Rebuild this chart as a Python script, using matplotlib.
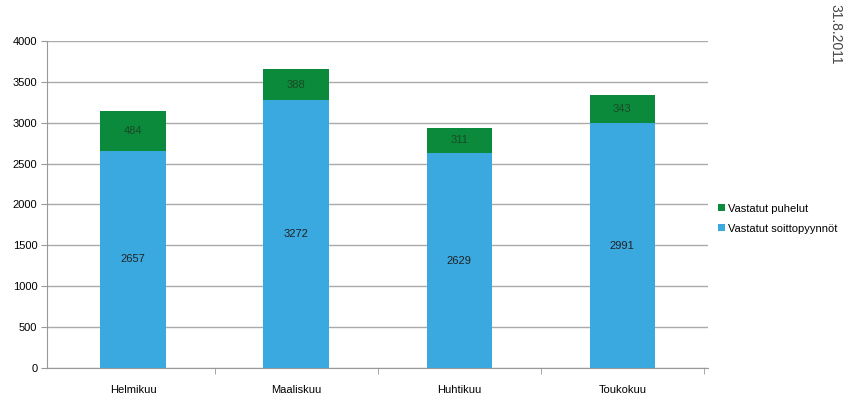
import matplotlib
matplotlib.use("Agg")
import matplotlib.pyplot as plt
import numpy as np

# data
kuukaudet = ["Helmikuu", "Maaliskuu", "Huhtikuu", "Toukokuu"]
soittopyynnot = [2657, 3272, 2629, 2991]
puhelut = [484, 388, 311, 343]

SININEN = "#3aa9e0"
VIHREA = "#0b8a3c"

plt.rcParams["font.family"] = ["Liberation Sans", "DejaVu Sans"]

fig = plt.figure(figsize=(8.61, 3.94), dpi=100)
ax = fig.add_axes([0.0546, 0.066, 0.768, 0.830])

x = np.arange(len(kuukaudet))
leveys = 0.40

b1 = ax.bar(x, soittopyynnot, leveys, color=SININEN, label="Vastatut soittopyynnöt", zorder=3)
b2 = ax.bar(x, puhelut, leveys, bottom=soittopyynnot, color=VIHREA, label="Vastatut puhelut", zorder=3)

for i in range(len(x)):
    ax.text(x[i], soittopyynnot[i] / 2, str(soittopyynnot[i]), ha="center", va="center",
            fontsize=8, color="#222222", zorder=4)
    ax.text(x[i], soittopyynnot[i] + puhelut[i] / 2, str(puhelut[i]), ha="center", va="center",
            fontsize=8, color="#1a4a25", zorder=4)

ax.set_xlim(-0.527, 3.527)
ax.set_ylim(0, 4000)
ax.set_yticks(range(0, 4001, 500))
ax.set_xticks(x)
ax.set_xticklabels(kuukaudet)
ax.set_xticks(np.arange(0.5, 3.6, 1), minor=True)
ax.tick_params(axis="x", which="major", length=0, pad=12, labelsize=8)
ax.tick_params(axis="x", which="minor", length=4, color="#999999")
ax.tick_params(axis="y", length=4, color="#999999", labelsize=8, pad=3)

ax.grid(True, axis="y", color="#aaaaaa", linewidth=1, zorder=0)
for s in ["top", "right"]:
    ax.spines[s].set_visible(False)
ax.spines["left"].set_color("#999999")
ax.spines["bottom"].set_color("#999999")

handles = [b2, b1]
ax.legend(handles, [h.get_label() for h in handles], loc="center left",
          bbox_to_anchor=(1.0, 0.456), frameon=False, fontsize=8,
          handlelength=0.6, handleheight=0.6, handletextpad=0.3, labelspacing=0.9)

fig.text(0.97, 0.99, "31.8.2011", rotation=-90, ha="center", va="top",
         fontsize=10, color="#444444")

fig.savefig("out.png", dpi=100)
